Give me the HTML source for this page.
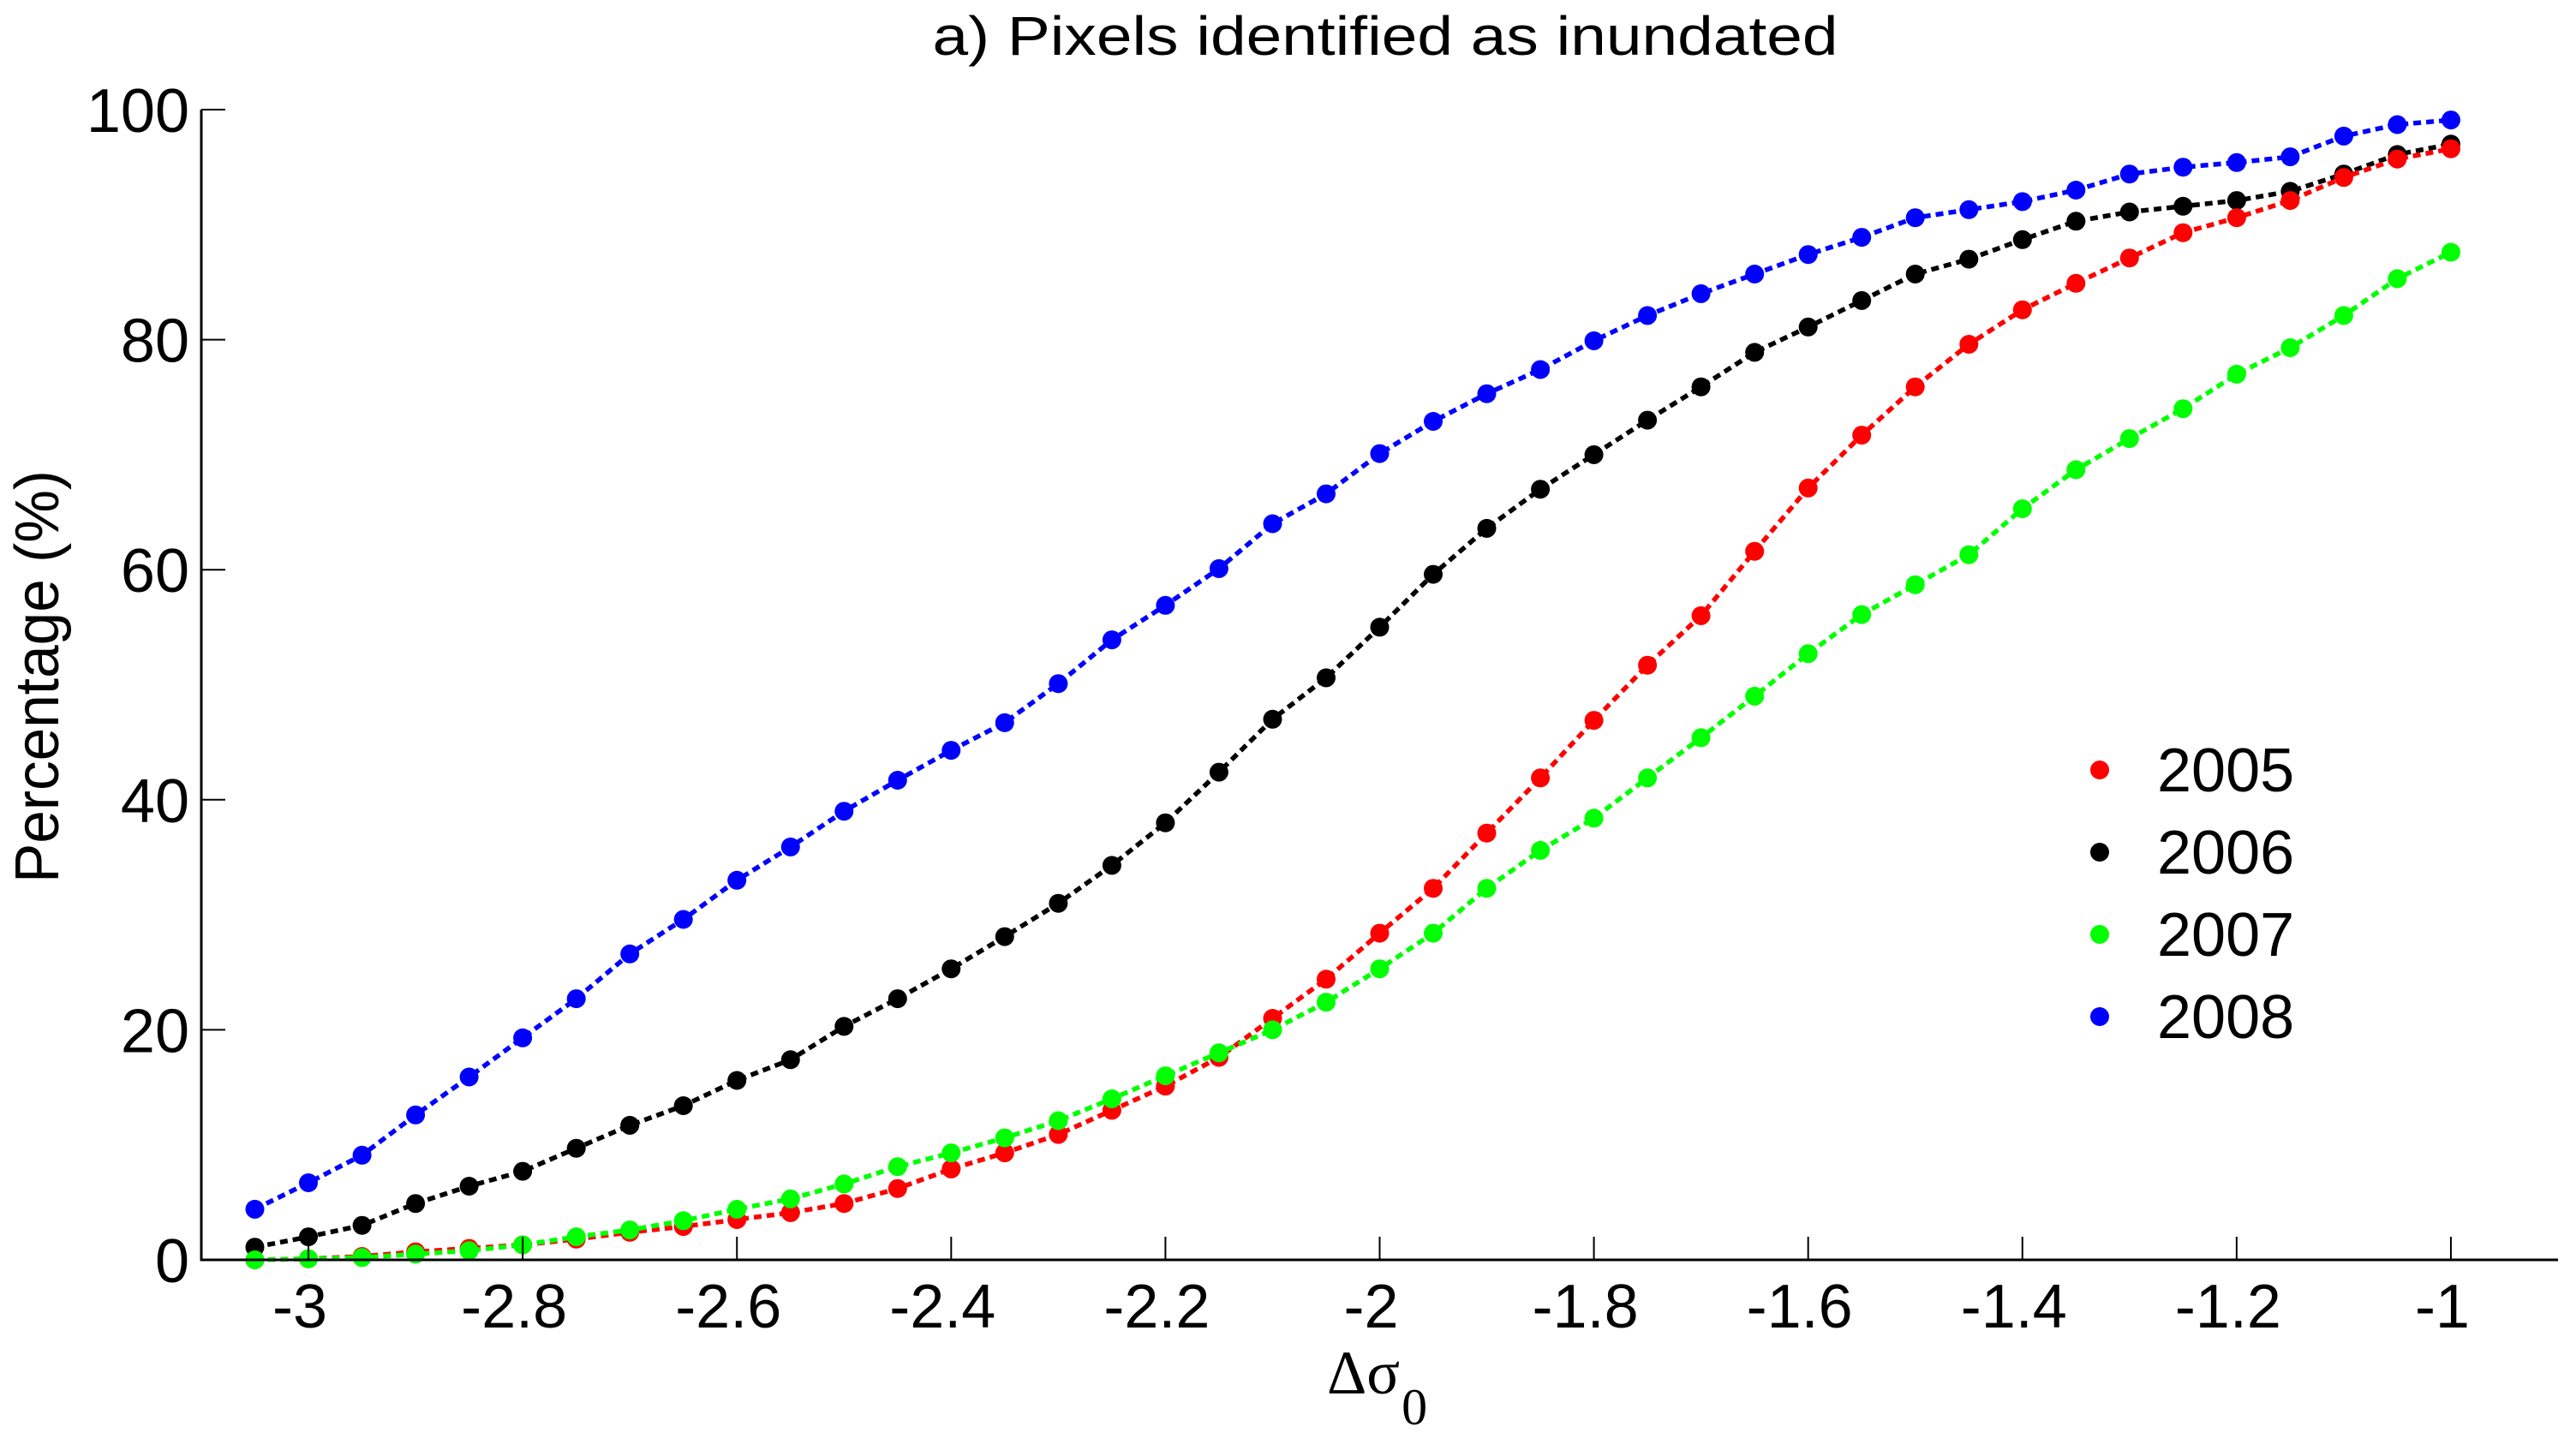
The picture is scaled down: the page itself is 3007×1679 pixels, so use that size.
<!DOCTYPE html>
<html><head><meta charset="utf-8"><style>
html,body{margin:0;padding:0;background:#fff;}
svg{display:block;}
text{font-family:"Liberation Sans",sans-serif;fill:#000;}
</style></head><body>
<svg id="chart" width="3007" height="1679" viewBox="0 0 3007 1679" xmlns="http://www.w3.org/2000/svg">
<rect width="3007" height="1679" fill="#fff"/>
<text x="1617" y="64" font-size="64" text-anchor="middle" textLength="1057" lengthAdjust="spacingAndGlyphs">a) Pixels identified as inundated</text>
<g id="series"></g>
<g id="axes"></g>
<text transform="translate(68,1031) rotate(-90)" font-size="72" text-anchor="start" textLength="482" lengthAdjust="spacingAndGlyphs">Percentage (%)</text>
<text x="1549" y="1627" font-size="72" style="font-family:'Liberation Serif',serif">Δσ<tspan font-size="60" dy="36" dx="2">0</tspan></text>
<g id="legend"></g>
</svg>
<script>
const xValues = [-3.05,-3.0,-2.95,-2.9,-2.85,-2.8,-2.75,-2.7,-2.65,-2.6,-2.55,-2.5,-2.45,-2.4,-2.35,-2.3,-2.25,-2.2,-2.15,-2.1,-2.05,-2.0,-1.95,-1.9,-1.85,-1.8,-1.75,-1.7,-1.65,-1.6,-1.55,-1.5,-1.45,-1.4,-1.35,-1.3,-1.25,-1.2,-1.15,-1.1,-1.05,-1.0];
const series2005 = [0.0,0.1,0.3,0.7,1.0,1.3,1.8,2.4,2.9,3.5,4.1,4.9,6.2,7.9,9.3,10.9,13.0,15.1,17.6,21.0,24.4,28.4,32.3,37.1,41.9,46.9,51.7,56.0,61.6,67.1,71.7,75.9,79.6,82.6,84.9,87.1,89.3,90.6,92.1,94.1,95.7,96.6];
const series2006 = [1.1,2.0,3.0,4.9,6.4,7.7,9.7,11.7,13.4,15.6,17.4,20.3,22.7,25.3,28.1,31.0,34.3,38.0,42.4,47.0,50.6,55.0,59.6,63.6,67.0,70.0,73.0,75.9,78.9,81.1,83.4,85.7,87.0,88.7,90.3,91.1,91.6,92.1,92.9,94.4,96.1,97.0];
const series2007 = [0.0,0.1,0.2,0.5,0.8,1.3,2.0,2.6,3.4,4.4,5.3,6.6,8.1,9.3,10.6,12.1,14.0,16.0,18.0,20.0,22.4,25.3,28.4,32.3,35.6,38.4,41.9,45.4,49.0,52.7,56.1,58.7,61.3,65.3,68.7,71.4,74.0,77.0,79.3,82.1,85.3,87.6];
const series2008 = [4.4,6.7,9.1,12.6,15.9,19.3,22.7,26.6,29.6,33.0,35.9,39.0,41.7,44.3,46.7,50.1,53.9,56.9,60.1,64.0,66.6,70.1,72.9,75.3,77.4,79.9,82.1,84.0,85.7,87.4,88.9,90.6,91.3,92.0,93.0,94.4,95.0,95.4,95.9,97.7,98.7,99.1];
const seriesNames = ["2005","2006","2007","2008"];
const xTicks = [-3,-2.8,-2.6,-2.4,-2.2,-2,-1.8,-1.6,-1.4,-1.2,-1];
const xTickLabels = ["-3","-2.8","-2.6","-2.4","-2.2","-2","-1.8","-1.6","-1.4","-1.2","-1"];
const yTicks = [0,20,40,60,80,100];
const yTickLabels = ["0","20","40","60","80","100"];

const NS = "http://www.w3.org/2000/svg";
const X0 = 235, X1 = 2986, Y0 = 1471, Y1 = 128;
const xMin = -3.1, xMax = -0.9, yMin = 0, yMax = 100;
function sx(v){ return X0 + (v - xMin) / (xMax - xMin) * (X1 - X0); }
function sy(v){ return Y0 - (v - yMin) / (yMax - yMin) * (Y0 - Y1); }
function mk(tag, attrs, parent){ const e = document.createElementNS(NS, tag); for (const k in attrs) e.setAttribute(k, attrs[k]); parent.appendChild(e); return e; }

const allSeries = [series2005, series2006, series2007, series2008];
const colors = ["#ff0000","#000000","#00ff00","#0000ff"];
const order = [3,1,0,2];
const sg = document.getElementById('series');
order.forEach(function(si){
  const g = mk('g', {}, sg);
  
  
  const d = allSeries[si].map(function(v,i){ return (i ? 'L' : 'M') + sx(xValues[i]).toFixed(1) + ' ' + sy(v).toFixed(1); }).join(' ');
  const p = mk('path', {d: d, fill: 'none', stroke: colors[si], 'stroke-width': 5.5, 'stroke-dasharray': '9 6'}, g);
  
  
  allSeries[si].forEach(function(v,i){
    const c = mk('circle', {cx: sx(xValues[i]).toFixed(1), cy: sy(v).toFixed(1), r: 11, fill: colors[si]}, g);
    
    
  });
});

const ag = document.getElementById('axes');
const ya = mk('line', {x1: X0, y1: Y1, x2: X0, y2: Y0 + 1.5, stroke: '#000', 'stroke-width': 3}, ag);


const xa = mk('line', {x1: X0 - 1.5, y1: Y0, x2: X1, y2: Y0, stroke: '#000', 'stroke-width': 3}, ag);


xTicks.forEach(function(v,i){
  const t = mk('line', {x1: sx(v), y1: Y0, x2: sx(v), y2: Y0 - 27, stroke: '#000', 'stroke-width': 2}, ag);
  
  
  const l = mk('text', {x: sx(v) - 10, y: 1550, 'font-size': 72, 'text-anchor': 'middle'}, ag);
  l.textContent = xTickLabels[i];
  
  
});
yTicks.forEach(function(v,i){
  const t = mk('line', {x1: X0, y1: sy(v), x2: X0 + 28, y2: sy(v), stroke: '#000', 'stroke-width': 2}, ag);
  
  
  const l = mk('text', {x: 221, y: sy(v) + 26, 'font-size': 72, 'text-anchor': 'end'}, ag);
  l.textContent = yTickLabels[i];
  
  
});

const lg = document.getElementById('legend');
seriesNames.forEach(function(n,i){
  const y = 899 + i * 96;
  const c = mk('circle', {cx: 2451, cy: y, r: 11, fill: colors[i]}, lg);
  
  
  const t = mk('text', {x: 2518, y: y + 25, 'font-size': 72}, lg);
  t.textContent = n;
  
  
});
</script>
</body></html>
